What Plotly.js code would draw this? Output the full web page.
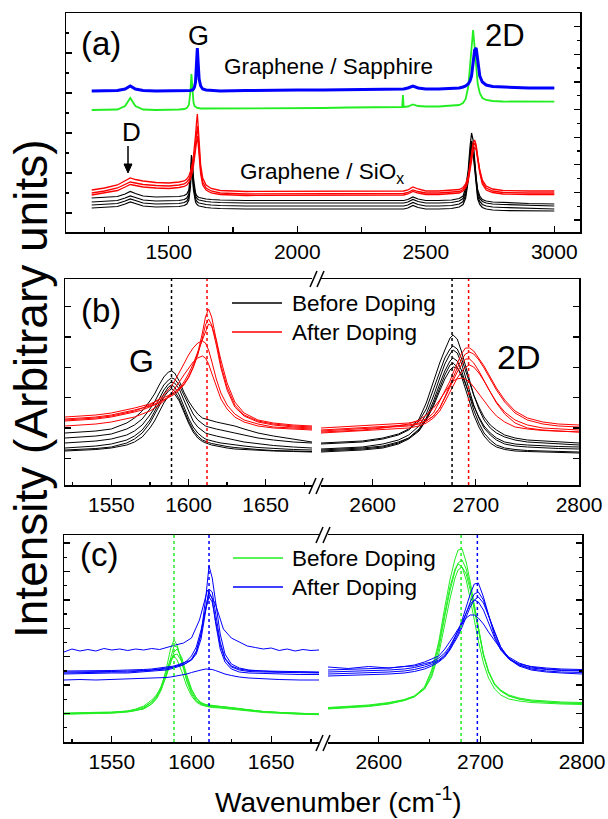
<!DOCTYPE html>
<html><head><meta charset="utf-8">
<script src="https://cdn.plot.ly/plotly-3.0.1.min.js"></script>
<style>html,body{margin:0;padding:0;background:#fff}#plot{width:608px;height:819px}</style>
</head><body><div id="plot"></div>
<script>
// ---------- Panel (a): full spectra (intensity in arbitrary units) ----------
const xA = [1200,1250,1300,1330,1350,1370,1400,1450,1500,1540,1560,1570,1578,1584,1588,1592,1596,1600,1604,1608,1611,1614,1618,1624,1632,1645,1665,1700,1800,1900,2000,2100,2200,2300,2400,2408,2411,2414,2430,2450,2470,2500,2550,2600,2630,2645,2655,2665,2672,2678,2684,2690,2696,2702,2710,2720,2735,2760,2800,2900,3000];
const aSapphireAfter = [141,141,141.5,143,146,143,141.5,141,141,141, 141,141,141,141.5,142,142,143,145,150,165, 184,170,153,146,143,142,141.5,141,141.5,142, 142,142,142.5,142.5,143,143,143,143,144,146, 144,143,143,143.5,144,145,146,148,151,156, 168,182,184,170,156,150,147,145.5,145,144, 144];
const aSapphireBefore = [122,122,122.5,126,134,126,122.5,122,122,122.5, 123,124,127,140,158,140,130,126,125,124.5, 124,124,123.5,123.5,123.5,123.5,123.5,123.5,123.5,124, 124,124,124.5,124.5,125,125,137,125,125.5,127.5, 126,125.5,125.5,126,127,129,133,145,165,190, 202,185,163,148,139,134,132,131,130.5,130.3, 130.3];
const aSiOxAfter1 = [42,44,47,51,54,52.5,51,49.5,49,50, 51,53,56,60,64,69,76,85,97,110, 118,107,87,67,54,47,43.5,41.5,40.5,40.5, 40.5,40.5,40.5,40.5,41,41,41,41,42,45, 43,41,41,41.5,42.5,44.5,48,56,67,80, 89,92,87,75,62,52,46,43,41.5,41, 41];
const aSiOxAfter2 = [39,41,44,47.5,50,49,47.5,46.5,46,47, 48,50,52.5,56,60,64,70,78,89,100, 106,97,80,62,50,44,41,39,38,38, 38,38,38,38.5,38.5,38.5,38.5,38.5,39.5,42, 40.5,39,39,39.5,40.5,42.5,46,53,63,75, 85,89,85,74,61,50,44,41,39.5,39, 39];
const aSiOxAfter3 = [37,39,41.5,45,47.5,46.5,45,44,43.5,44.5, 45.5,47,49.5,53,56,60,66,73,82,92, 96,89,74,58,47,42,39,37.5,36.5,36.5, 36.5,36.5,36.5,36.5,37,37,37,37,38,40.5, 39,37.5,37.5,38,39,41,44,51,60,71, 80,85,82,72,59,48,42,39.5,38,37.5, 37.5];
const aSiOxBefore1 = [34,34.5,35.5,38,40.5,38.5,36,35,35,35.5, 36.5,38,42,58,77,70,54,45,39,36.5, 35.5,35,34.5,34,33.5,33,32.5,32,31.5,31.5, 31.5,31.5,31.5,31.5,31.5,31.5,31.5,31.5,32.5,35, 33,31.5,31.5,32,33.5,36,44,62,85,99, 92,72,53,42,36,32.5,31,30,29.5,28.5, 28];
const aSiOxBefore2 = [30,30.5,31.5,34,36,34.5,32,31,31,31.5, 32.5,34,38,52,70,64,48,40,36,34, 33,32.5,32,31.5,31,30.5,30,29.5,29,29, 29,29,29,29,29,29,29,29,30,32.5, 30.5,29,29,29.5,31,33.5,40,57,78,91, 85,67,49,39,33.5,30.5,29,28,27.5,26.5, 26];
const aSiOxBefore3 = [27,27.5,28.5,31,33,31.5,29,28,28,28.5, 29.5,31,35,48,66,60,45,37,33,31, 30,29.5,29,28.5,28,27.5,27,26.5,26,26, 26,26,26,26,26,26,26,26,27,29.5, 27.5,26,26,26.5,28,30.5,37,54,75,88, 82,64,46,36,30.5,27.5,26,25,24.5,23.5, 23];
const aSiOxBefore4 = [24,24.5,25.5,28,30,28.5,26,25,25,25.5, 26.5,28,32,45,62,57,42,34,30,28, 27,26.5,26,25.5,25,24.5,24,23.5,23,23, 23,23,23,23,23,23,23,23,24,26.5, 24.5,23,23,23.5,25,27.5,34,51,72,85, 79,61,43,33,27.5,24.5,23,22,21.5,21, 21];

// ---------- Panels (b),(c): G region and 2D region ----------
const xG = [1520,1530,1540,1550,1560,1565,1570,1575,1578,1581,1584,1587,1589,1591,1594,1597,1600,1603,1606,1609,1611,1613,1615,1618,1621,1625,1630,1636,1645,1655,1668,1680];
const x2D = [2550,2570,2590,2610,2625,2635,2645,2652,2659,2665,2670,2675,2678,2682,2686,2690,2694,2698,2703,2708,2714,2720,2728,2738,2750,2765,2780,2800];

// (b) SiOx before doping (black)
const bBeforeG = [
 [52,53,54,56,62,67,74,84,91,100,108,113,114,112,104,93,84,77,71,67,66,65,64,63,62,61,59,56,52,49,46,43],
 [47,48,49,51,56,60,66,76,83,92,100,105,107,106,100,90,80,71,65,61,59,58,57,56,55,54,52,50,47,45,43,42],
 [42,43,44,46,50,54,60,70,77,86,95,101,103,102,96,85,74,64,58,54,52,51,50,49,48,47,45,43,41,39.5,38,37],
 [37,38,39,41,45,49,55,65,73,82,91,98,100,98,90,78,67,58,52,48,46,45,44,43,42,41,40,39,37.5,36.5,35.5,35],
 [35,35.5,36.5,38,42,46,52,62,70,79,88,94,96,94,86,75,64,55,49,45,43.5,42.5,41.5,40.5,39.5,38.5,37.5,36.5,35.5,34.5,34,33.5],
 [34,34.5,35.5,37,40,43,48,57,64,73,82,89,92,91,84,73,62,53,47,43.5,42,41,40,39,38,37,36,35.5,34.5,34,33.5,33]
];
const bBefore2D = [
 [42,43,44,47,51,56,66,82,104,122,135,147,150,146,134,119,104,90,76,65,57,52,48,45,43,42,41,40],
 [41,42,43,46,50,55,64,76,95,113,127,136,139,136,127,115,102,90,78,68,60,55,50,47,45,44,43,42],
 [36,37,38,41,45,50,59,71,89,107,121,131,135,132,122,108,94,80,67,57,50,45,41,39,38,37,36.5,36],
 [34,35,36,38,42,47,56,67,84,101,114,124,127,124,115,102,88,75,62,52,45,40,37,35.5,34.5,34,33.5,33],
 [33,34,35,37,41,46,54,65,81,97,110,120,122,118,109,96,83,70,58,49,42,38,35.5,34,33.5,33,32.5,32],
 [35,36,37,39,43,47,55,65,79,94,106,115,118,117,111,101,90,79,68,59,52,47,43,41,40,39,38.5,38]
];
// (b) SiOx after doping (red)
const bAfterG = [
 [68,69,70,72,75,77,79,81,83,85,87,89,91,93,96,101,108,118,132,152,168,176,168,145,120,98,80,70,64,61,59,58],
 [66,67,68,70,73,75,77,79,81,83,85,87,89,91,95,100,107,117,130,147,160,166,160,140,117,95,78,69,63,60,58,57],
 [64,65,66,68,71,73,75,78,80,82,85,88,90,93,97,103,111,121,133,146,155,161,159,145,125,102,83,72,65,62,60,59],
 [65,66,67,69,72,74,77,80,83,86,90,95,99,104,112,121,130,137,142,144,142,135,124,106,92,80,71,65,61,58,57,56],
 [59,60,61,63,66,68,71,74,77,80,84,88,92,96,103,110,117,123,127,129,127,121,112,98,86,76,68,63,59,57,56,55]
];
const bAfter2D = [
 [57,58,59,60,61,62,64,66,72,84,95,104,112,122,131,137,137,134,127,119,108,97,85,74,67,63,61,60],
 [55,56,57,58,59,60,62,64,69,77,88,100,108,117,125,131,133,131,125,117,106,95,83,72,65,61,59,58],
 [54,55,56,57,58,59,61,64,69,77,87,98,105,113,120,126,126,122,114,104,93,83,73,65,60,57,56,55],
 [52,53,54,55,56,57,59,62,67,74,83,93,99,107,113,118,120,118,112,104,93,82,71,62,57,55,54,53],
 [53,54,55,57,59,61,65,70,77,85,93,100,104,106,107,106,103,98,91,84,76,69,63,58,56,54.5,54,53]
];
// (c) Sapphire before doping (green)
const cBeforeG = [
 [28.5,28.7,29,29.5,30.5,31.5,33,38,44,54,72,94,102,97,80,61,48,41,38,36.5,36,35.5,35.5,35,35,34,33,32,30.5,29.5,28.5,28],
 [28,28.3,28.7,29.2,30.5,31.5,33.5,38,43,52,67,86,96,95,81,63,50,42,38,36,35.5,35,35,34.5,34,33.5,32.5,31.5,30,29,28,27.5],
 [29,29.3,29.6,30,31,32.5,35,40,45,53,65,81,90,93,84,67,53,44,39,37,36.5,36,36,35.5,35,34,33,32,30.5,29.5,28.5,28],
 [28.3,28.6,29,29.5,31,33,36,42,47,55,66,80,87,88,80,65,52,44,39.5,37.5,37,36.5,36,35.5,35,34.5,33.5,32,30.5,29.5,28.5,28],
 [27.8,28,28.3,28.8,30,31.5,34,40,46,56,70,83,86,82,70,56,46,40,37,35.5,35,34.5,34.5,34,33.5,33,32,31,29.5,28.5,27.8,27.3]
];
const cBefore2D = [
 [34,35,36.5,39,42,46,55,72,100,135,162,183,192,193,180,160,137,113,87,70,57,51,46,43,41,40,39,38.5],
 [33.5,34.5,36,38.5,41.5,45,53,67,93,126,151,171,179,182,173,156,135,112,88,71,58,51,46,43,41,40,39,38.5],
 [33,34,35.5,38,41.5,45.5,54,70,97,129,155,173,178,175,162,143,122,101,79,64,53,47,43,41,39.5,38.5,38,37.5],
 [34.5,35.5,37,39.5,42.5,46,53,65,88,118,143,164,172,175,168,152,132,110,87,70,58,52,47,44,42,41,40,39.5]
];
// (c) Sapphire after doping (blue)
const cAfterG = [
 [70,70,70.5,70.5,71,71,71.5,72,72.5,73,73.5,74,75,76,77,79,82,90,108,145,176,164,140,108,88,78,74,72,71,70,70,69.5],
 [71,71,71.5,71.5,72,72,72.5,73,73.5,74,74.5,75,76,77,78.5,80,82,88,103,132,153,150,130,100,84,76,73,71.5,71,70.5,70,70],
 [68,68.5,68.5,69,69,69.5,70,70.5,71,71.5,72,73,74,75,76.5,79,83,91,108,135,150,143,120,93,80,73,70,69,68.5,68,67.5,67.5],
 [69,69.5,69.5,70,70,70.5,71,71.5,72,72.5,73,74,75,76,78,81,86,95,112,133,145,140,122,97,83,75,72,70.5,70,69.5,69,69],
 [62,62.5,62,62.5,63,63,63.5,63.5,64,64,64.5,65,65.5,66,67,68,69.5,71,72,73,73,72.5,71.5,69.5,68,66.5,65,64,63,62.5,62,62]
];
const xGnoisy = [1520,1525,1530,1535,1540,1545,1550,1555,1560,1565,1570,1575,1580,1585,1590,1595,1600,1605,1610,1615,1620,1625,1630,1635,1640,1645,1650,1655,1660,1665,1670,1675,1680];
const cAfterGnoisy = [90,93,91,92.5,91,93.5,92,93,91.5,93,92,93.5,92.5,95,97,99,104,122,152,138,113,104,100,96,94.5,93,94,91.5,93,91,92.5,91.5,92];
const cAfter2D = [
 [70,70.5,71,72,73,74.5,77,79,82,87,94,104,111,122,136,148,158,159,145,126,106,93,83,77,74,72.5,71.5,71],
 [68,68.5,69,70,71,72.5,75,77.5,81,86,93,102,108,118,129,140,148,150,142,127,109,95,84,77,73,71,70,69.5],
 [66,66.5,67,68,69,70.5,73,76,80,85,92,100,106,115,125,135,142,145,139,126,109,95,83,76,72,70,69,68],
 [75,73.5,75.5,74,75.5,76,78.5,80,84,89,96,105,111,120,130,138,142,140,132,119,104,92,83,78,75.5,74,73,72.5],
 [72,72.5,73,74,75.5,77,80,83,86,93,100,108,113,119,124,127,127,124,118,110,101,93,85,79,75,73,72,71.5]
];
// peak positions marked by dotted lines
const markB_G = [1589, 1612];
const markB_2D = [2677, 2693];
const markC_G = [1589, 1611];
const markC_2D = [2681, 2697];
const tickA = [1500, 2000, 2500, 3000];
const tickG = [1550, 1600, 1650];
const tick2D = [2600, 2700, 2800];

// ---------- drawing ----------
const W = 608, H = 819;
const px = v => v / W, py = v => 1 - v / H;
const F = 'Arial, "Liberation Sans", sans-serif';
const BLACK = '#000000', RED = '#ff0000', GREEN = '#22ee22', BLUE = '#0000ff';
const traces = [];
function add(x, y, xa, ya, color, w) {
  traces.push({type:'scatter', mode:'lines', x:x, y:y, xaxis:xa, yaxis:ya,
    line:{color:color, width:w}, hoverinfo:'skip', showlegend:false});
}
[aSiOxBefore1, aSiOxBefore2, aSiOxBefore3, aSiOxBefore4].forEach(s => add(xA, s, 'x', 'y', BLACK, 1.2));
[aSiOxAfter1, aSiOxAfter2, aSiOxAfter3].forEach(s => add(xA, s, 'x', 'y', RED, 1.3));
add(xA, aSapphireBefore, 'x', 'y', GREEN, 1.8);
add(xA, aSapphireAfter, 'x', 'y', BLUE, 3);
traces.push({type:'scatter', mode:'lines', x:[], y:[], xaxis:'x', yaxis:'y2', showlegend:false});

bBeforeG.forEach(s => add(xG, s, 'x2', 'y3', BLACK, 1));
bAfterG.forEach(s => add(xG, s, 'x2', 'y3', RED, 1));
bBefore2D.forEach(s => add(x2D, s, 'x3', 'y4', BLACK, 1));
bAfter2D.forEach(s => add(x2D, s, 'x3', 'y4', RED, 1));

cBeforeG.forEach(s => add(xG, s, 'x4', 'y5', GREEN, 1));
cAfterG.forEach(s => add(xG, s, 'x4', 'y5', BLUE, 1));
add(xGnoisy, cAfterGnoisy, 'x4', 'y5', BLUE, 1);
cBefore2D.forEach(s => add(x2D, s, 'x5', 'y6', GREEN, 1));
cAfter2D.forEach(s => add(x2D, s, 'x5', 'y6', BLUE, 1));

const base = {showline:true, linecolor:'#000', linewidth:1.5, ticks:'inside', tickcolor:'#000',
  tickwidth:1.2, showgrid:false, zeroline:false, tickfont:{family:F, size:21, color:'#000'}};
const yNo = Object.assign({}, base, {showticklabels:false});

const layout = {
  width:W, height:H, margin:{l:0, r:0, t:0, b:0}, paper_bgcolor:'#fff', plot_bgcolor:'rgba(0,0,0,0)',
  showlegend:false, hovermode:false,
  xaxis: Object.assign({}, base, {domain:[px(66), px(580)], anchor:'y', range:[1100, 3100],
    tickvals:tickA, ticklen:6, mirror:true, minor:{dtick:250, tick0:1250, ticklen:5, ticks:'inside', tickcolor:'#000'}}),
  yaxis: Object.assign({}, yNo, {domain:[py(232), py(13)], anchor:'x', range:[0, 219], mirror:true,
    tick0:19, dtick:40, ticklen:6, minor:{tick0:19, dtick:20, ticklen:3, ticks:'inside', tickcolor:'#000'}}),
  yaxis2: Object.assign({}, yNo, {overlaying:'y', side:'right', anchor:'x', range:[0, 219], showline:false,
    tick0:12, dtick:27.62, ticklen:6, minor:{tick0:12, dtick:13.81, ticklen:3, ticks:'inside', tickcolor:'#000'}}),

  xaxis2: Object.assign({}, base, {domain:[px(65), px(312)], anchor:'y3', range:[1520, 1680],
    tickvals:tickG, ticklen:6, mirror:true, minor:{dtick:25, tick0:1525, ticklen:3, ticks:'inside', tickcolor:'#000'}}),
  yaxis3: Object.assign({}, yNo, {domain:[py(485), py(279)], anchor:'x2', range:[0, 206],
    tick0:26.7, dtick:30.32, ticklen:6}),
  xaxis3: Object.assign({}, base, {domain:[px(321), px(579)], anchor:'y4', range:[2550, 2800],
    tickvals:tick2D, ticklen:6, mirror:true, minor:{dtick:50, tick0:2550, ticklen:3, ticks:'inside', tickcolor:'#000'}}),
  yaxis4: Object.assign({}, yNo, {domain:[py(485), py(279)], anchor:'x3', side:'right', range:[0, 206],
    tick0:26.7, dtick:30.32, ticklen:6}),

  xaxis4: Object.assign({}, base, {domain:[px(64), px(319)], anchor:'y5', range:[1520, 1680],
    tickvals:tickG, ticklen:6, mirror:true, minor:{dtick:25, tick0:1525, ticklen:3, ticks:'inside', tickcolor:'#000'}}),
  yaxis5: Object.assign({}, yNo, {domain:[py(742), py(535)], anchor:'x4', range:[0, 207],
    tick0:28.5, dtick:28.4, ticklen:6, minor:{tick0:14.3, dtick:14.2, ticklen:3, ticks:'inside', tickcolor:'#000'}}),
  xaxis5: Object.assign({}, base, {domain:[px(328), px(582)], anchor:'y6', range:[2550, 2800],
    tickvals:tick2D, ticklen:6, mirror:true, minor:{dtick:50, tick0:2550, ticklen:3, ticks:'inside', tickcolor:'#000'}}),
  yaxis6: Object.assign({}, yNo, {domain:[py(742), py(535)], anchor:'x5', side:'right', range:[0, 207],
    tick0:28.5, dtick:28.4, ticklen:6, minor:{tick0:14.3, dtick:14.2, ticklen:3, ticks:'inside', tickcolor:'#000'}}),
  shapes:[], annotations:[]
};

// dotted peak markers
function vdot(xv, xa, ya, color) {
  layout.shapes.push({type:'line', xref:xa, yref:ya + ' domain', x0:xv, x1:xv, y0:0, y1:1,
    line:{color:color, width:1.5, dash:'dot'}});
}
vdot(markB_G[0], 'x2', 'y3', BLACK); vdot(markB_G[1], 'x2', 'y3', RED);
vdot(markB_2D[0], 'x3', 'y4', BLACK); vdot(markB_2D[1], 'x3', 'y4', RED);
vdot(markC_G[0], 'x4', 'y5', GREEN); vdot(markC_G[1], 'x4', 'y5', BLUE);
vdot(markC_2D[0], 'x5', 'y6', GREEN); vdot(markC_2D[1], 'x5', 'y6', BLUE);

// axis break marks //
function brk(cx, cy) {
  [-3.5, 3.5].forEach(dx => layout.shapes.push({type:'line', xref:'paper', yref:'paper',
    x0:px(cx + dx - 3.5), y0:py(cy + 8), x1:px(cx + dx + 3.5), y1:py(cy - 8),
    line:{color:'#000', width:1.5}}));
}
brk(317, 279); brk(316, 486); brk(323, 535); brk(323, 743);

// D-band arrow
layout.shapes.push({type:'line', xref:'paper', yref:'paper', x0:px(128), x1:px(128), y0:py(146), y1:py(166),
  line:{color:'#000', width:1.5}});
layout.shapes.push({type:'path', xref:'paper', yref:'paper', fillcolor:'#000', line:{color:'#000', width:1},
  path:'M ' + px(124) + ' ' + py(164) + ' L ' + px(132) + ' ' + py(164) + ' L ' + px(128) + ' ' + py(173) + ' Z'});

// legend samples
function legLine(x0, x1, y, color) {
  layout.shapes.push({type:'line', xref:'paper', yref:'paper', x0:px(x0), x1:px(x1), y0:py(y), y1:py(y),
    line:{color:color, width:1.3}});
}
legLine(232, 282, 303, BLACK); legLine(232, 282, 332, RED);
legLine(233, 283, 558, GREEN); legLine(233, 283, 587, BLUE);

function txt(t, x, y, size, opts) {
  layout.annotations.push(Object.assign({text:t, x:px(x), y:py(y), xref:'paper', yref:'paper',
    showarrow:false, xanchor:'center', yanchor:'middle', font:{family:F, size:size, color:'#000'}}, opts || {}));
}
txt('(a)', 101, 43, 33);
txt('G', 198, 36, 27);
txt('2D', 505, 36, 31);
txt('Graphene / Sapphire', 328, 66, 22.5);
txt('D', 131, 132, 26);
txt('Graphene / SiO<sub>x</sub>', 322, 173, 22.5);
txt('(b)', 101, 310, 33);
txt('G', 141, 361, 32);
txt('2D', 518, 357, 34);
txt('Before Doping', 290, 303, 22.5, {xanchor:'left'});
txt('After Doping', 290, 332, 22.5, {xanchor:'left'});
txt('(c)', 99, 554, 33);
txt('Before Doping', 290, 558, 22.5, {xanchor:'left'});
txt('After Doping', 290, 587, 22.5, {xanchor:'left'});
txt('Wavenumber (cm<sup>-1</sup>)', 338, 800, 28);
txt('Intensity (Arbitrary units)', 31, 389, 46, {textangle:-90});

Plotly.newPlot('plot', traces, layout, {staticPlot:true, displayModeBar:false});
</script>
</body></html>
